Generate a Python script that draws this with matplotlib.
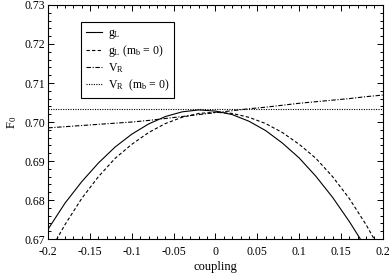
import numpy as np
import matplotlib
matplotlib.use("Agg")
import matplotlib.pyplot as plt
from matplotlib.ticker import MultipleLocator

plt.rcParams['font.family'] = ['Liberation Serif', 'DejaVu Serif']
plt.rcParams['mathtext.fontset'] = 'custom'
plt.rcParams['mathtext.rm'] = 'Liberation Serif'
plt.rcParams['mathtext.it'] = 'Liberation Serif:italic'

coupling = [-0.20, -0.18, -0.16, -0.14, -0.12, -0.10, -0.08, -0.06, -0.04, -0.02, 0.00,
            0.02, 0.04, 0.06, 0.08, 0.10, 0.12, 0.14, 0.16, 0.18, 0.20]
g_L = [0.6726, 0.6792, 0.6847, 0.6895, 0.6936, 0.6969, 0.6995, 0.7014, 0.7026, 0.7031, 0.7028,
       0.7019, 0.7002, 0.6978, 0.6946, 0.6908, 0.6861, 0.6807, 0.6745, 0.6677, 0.6600]
g_L_mb0 = [0.6661, 0.6737, 0.6804, 0.6860, 0.6907, 0.6943, 0.6973, 0.6996, 0.7012, 0.7022, 0.7025,
           0.7022, 0.7012, 0.6996, 0.6973, 0.6943, 0.6907, 0.6860, 0.6804, 0.6737, 0.6661]
V_R = [0.6985, 0.6988, 0.6991, 0.6994, 0.6997, 0.7000, 0.7004, 0.7009, 0.7014, 0.7019, 0.7024,
       0.7029, 0.7034, 0.7038, 0.7043, 0.7048, 0.7052, 0.7056, 0.7060, 0.7065, 0.7069]
V_R_mb0 = [0.70333] * len(coupling)

labels = [r'g$_\mathrm{L}$', r'g$_\mathrm{L}$ (m$_\mathrm{b}$ = 0)',
          r'V$_\mathrm{R}$', r'V$_\mathrm{R}$  (m$_\mathrm{b}$ = 0)']

fig = plt.figure(figsize=(3.91, 2.73), dpi=100)
ax = fig.add_axes([0.1235, 0.1245, 0.8553, 0.8572])

lw = 0.8
ax.plot(coupling, g_L, color='black', lw=lw, ls='-', label=labels[0])
ax.plot(coupling, g_L_mb0, color='black', lw=lw, ls=(0, (3, 2)), label=labels[1])
ax.plot(coupling, V_R, color='black', lw=lw, ls=(0, (4, 1.5, 1, 1.5)), label=labels[2])
ax.plot(coupling, V_R_mb0, color='black', lw=lw, ls=(0, (1, 1.2)), label=labels[3])

ax.set_xlim(-0.2, 0.2)
ax.set_ylim(0.67, 0.73)
ax.xaxis.set_minor_locator(MultipleLocator(0.01))
ax.yaxis.set_minor_locator(MultipleLocator(0.002))
ax.set_xticks([-0.2, -0.15, -0.1, -0.05, 0, 0.05, 0.1, 0.15, 0.2])
ax.set_xticklabels(['-0.2', '-0.15', '-0.1', '-0.05', '0', '0.05', '0.1', '0.15', '0.2'])
ax.set_yticks([0.67, 0.68, 0.69, 0.70, 0.71, 0.72, 0.73])
ax.set_yticklabels(['0.67', '0.68', '0.69', '0.70', '0.71', '0.72', '0.73'])
ax.tick_params(which='both', direction='in', top=True, right=True, labelsize=8.5,
               width=0.7, colors='black')
ax.tick_params(which='major', length=4.5)
ax.tick_params(which='minor', length=2.3)
ax.tick_params(axis='y', which='major', pad=2)
ax.tick_params(axis='x', which='major', pad=5)
for s in ax.spines.values():
    s.set_linewidth(0.8)

ax.set_xlabel('coupling', fontsize=9, labelpad=2)
ax.set_ylabel(r'F$_\mathrm{0}$', fontsize=9, labelpad=4)

leg = ax.legend(loc='upper left', bbox_to_anchor=(0.098, 0.927), borderaxespad=0,
                fancybox=False, edgecolor='black', framealpha=1, fontsize=8.5,
                handlelength=1.4, handletextpad=0.5, labelspacing=0.2,
                borderpad=0.4)
leg.get_frame().set_linewidth(0.8)

fig.savefig('out.png', dpi=100)
